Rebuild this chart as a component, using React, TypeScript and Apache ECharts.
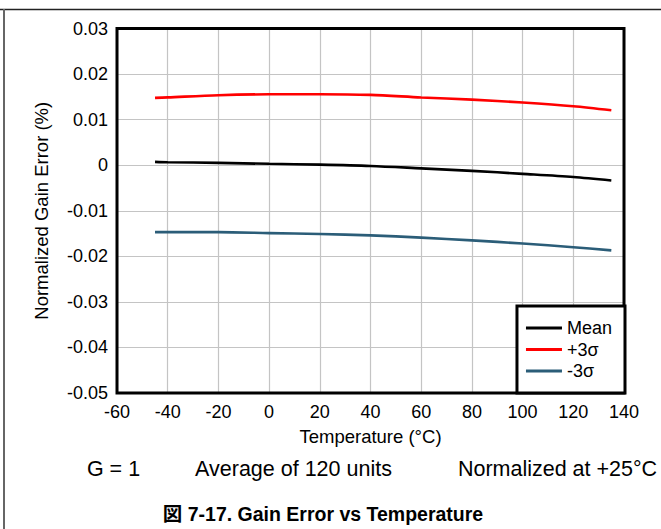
import React, { useEffect, useRef } from "react";
import * as echarts from "echarts";

const temps = [-45, -40, -20, 0, 20, 40, 60, 80, 100, 120, 135];
const meanVals = [0.00073, 0.00065, 0.0005, 0.0003, 0.00012, -0.00017, -0.0007, -0.00125, -0.0019, -0.0026, -0.00336];
const plus3Vals = [0.01477, 0.01488, 0.01536, 0.01556, 0.01558, 0.01543, 0.01486, 0.0144, 0.01376, 0.01295, 0.01207];
const minus3Vals = [-0.0147, -0.0147, -0.0147, -0.0149, -0.0151, -0.0154, -0.0159, -0.0165, -0.0172, -0.018, -0.0187];
const seriesNames = ["Mean", "+3σ", "-3σ"];
const seriesColors = ["#000000", "#ff0000", "#2b5d78"];
const xTitle = "Temperature (°C)";
const yTitle = "Normalized Gain Error (%)";
const notes = ["G = 1", "Average of 120 units", "Normalized at +25°C"];
const caption = "図 7-17. Gain Error vs Temperature";

const FONT = "'Liberation Sans', Arial, sans-serif";

export default function App() {
  const ref = useRef<HTMLDivElement>(null);
  useEffect(() => {
    if (!ref.current) return;
    const chart = echarts.init(ref.current, undefined, { renderer: "svg" });
    const pair = (vals: number[]) => temps.map((t, i) => [t, vals[i]]);
    const allVals = [meanVals, plus3Vals, minus3Vals];
    chart.setOption({
      animation: false,
      backgroundColor: "#ffffff",
      textStyle: { fontFamily: FONT },
      grid: {
        left: 117,
        right: 37,
        top: 28.5,
        bottom: 136,
        show: true,
        borderColor: "#000",
        borderWidth: 3,
        backgroundColor: "transparent",
        z: 5,
      },
      xAxis: {
        type: "value",
        min: -60,
        max: 140,
        interval: 20,
        name: xTitle,
        nameLocation: "middle",
        nameGap: 34,
        nameTextStyle: { fontSize: 18.5, color: "#000", fontFamily: FONT },
        axisLine: { show: false },
        axisTick: { show: false },
        axisLabel: { fontSize: 18, color: "#000", margin: 10, fontFamily: FONT },
        splitLine: { show: true, lineStyle: { color: "#c4c4c4", width: 1.2 } },
      },
      yAxis: {
        type: "value",
        min: -0.05,
        max: 0.03,
        interval: 0.01,
        name: yTitle,
        nameLocation: "middle",
        nameGap: 66,
        nameTextStyle: { fontSize: 18.5, color: "#000", fontFamily: FONT },
        axisLine: { show: false },
        axisTick: { show: false },
        axisLabel: {
          fontSize: 18,
          color: "#000",
          margin: 9,
          fontFamily: FONT,
          formatter: (v: number) => {
            const r = Math.round(v * 100) / 100;
            return r === 0 ? "0" : String(r);
          },
        },
        splitLine: { show: true, lineStyle: { color: "#c4c4c4", width: 1.2 } },
      },
      legend: {
        orient: "vertical",
        right: 36,
        bottom: 136,
        backgroundColor: "#ffffff",
        borderColor: "#000",
        borderWidth: 3,
        borderRadius: 0,
        padding: [13, 13, 13, 9],
        itemWidth: 36,
        itemHeight: 3,
        itemGap: 3.5,
        icon: "rect",
        z: 10,
        textStyle: { fontSize: 18, color: "#000", fontFamily: FONT, lineHeight: 18 },
        data: seriesNames,
      },
      series: seriesNames.map((n, i) => ({
        name: n,
        type: "line",
        data: pair(allVals[i]),
        smooth: 0.3,
        showSymbol: false,
        symbol: "none",
        lineStyle: { color: seriesColors[i], width: 2.6 },
        itemStyle: { color: seriesColors[i] },
        z: 3,
      })),
      graphic: [
        { type: "line", shape: { x1: 0, y1: 9.5, x2: 661, y2: 9.5 }, style: { stroke: "#222", lineWidth: 1.5 } },
        { type: "line", shape: { x1: 4, y1: 9, x2: 4, y2: 529 }, style: { stroke: "#666", lineWidth: 2 } },
        { type: "text", x: 113.5, y: 469, style: { text: notes[0], fontSize: 21.5, fontFamily: FONT, fill: "#000", textAlign: "center", textVerticalAlign: "middle" } },
        { type: "text", x: 293.5, y: 469, style: { text: notes[1], fontSize: 21.5, fontFamily: FONT, fill: "#000", textAlign: "center", textVerticalAlign: "middle" } },
        { type: "text", x: 557.5, y: 469, style: { text: notes[2], fontSize: 21.5, fontFamily: FONT, fill: "#000", textAlign: "center", textVerticalAlign: "middle" } },
        { type: "text", x: 323, y: 514, style: { text: caption, fontSize: 19.5, fontWeight: "bold", fontFamily: "'Liberation Sans', 'Noto Sans CJK JP', sans-serif", fill: "#000", textAlign: "center", textVerticalAlign: "middle" } },
      ],
    });
    return () => chart.dispose();
  }, []);
  return <div ref={ref} style={{ width: 661, height: 529, position: "absolute", left: 0, top: 0 }} />;
}
